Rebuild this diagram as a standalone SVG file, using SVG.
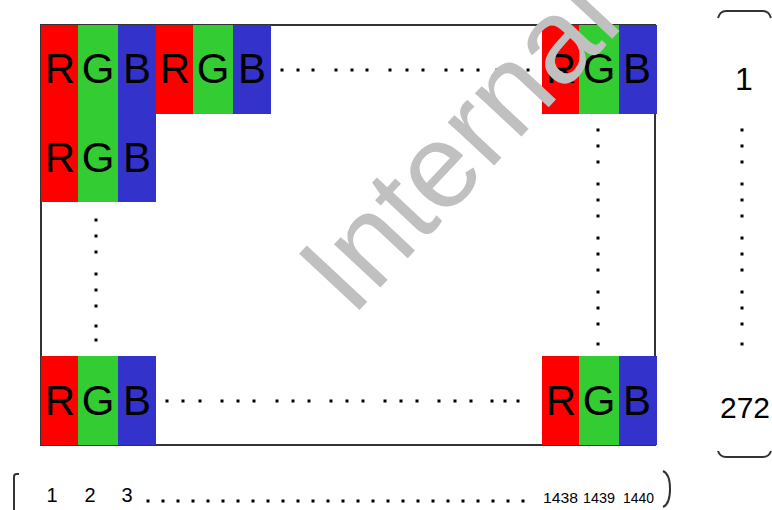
<svg xmlns="http://www.w3.org/2000/svg" width="772" height="510" viewBox="0 0 772 510">
<style>
.r{fill:#ff0000}.g{fill:#33cc33}.b{fill:#3333cc}
.L{font-family:"Liberation Sans",Arial,sans-serif;font-size:42px;fill:#000;text-anchor:middle}
.n{font-family:"Liberation Sans",Arial,sans-serif;fill:#000;text-anchor:middle}
.d{fill:#000}
.br{fill:none;stroke:#333;stroke-width:2}
.wm{font-family:"Liberation Sans",Arial,sans-serif;font-size:120px;fill:#c0c0c0}
</style>
<defs>
<g id="px">
<rect class="r" x="0" y="0" width="37" height="89"/>
<rect class="g" x="37" y="0" width="40" height="89"/>
<rect class="b" x="77" y="0" width="38" height="89"/>
</g>
<rect id="dt" x="-1.5" y="-1.5" width="3" height="3"/>
</defs>
<rect width="772" height="510" fill="#fff"/>
<rect x="41" y="25" width="614" height="420" fill="#fff" stroke="#333" stroke-width="2"/>

<g id="px-r1c1"><use href="#px" x="41" y="25"/><text class="L" x="60" y="83">R</text><text class="L" x="98" y="83">G</text><text class="L" x="137" y="83">B</text></g>
<g id="px-r1c2"><use href="#px" x="156" y="25"/><text class="L" x="175" y="83">R</text><text class="L" x="213" y="83">G</text><text class="L" x="252" y="83">B</text></g>
<g id="px-r1cN"><use href="#px" x="542" y="25"/><rect class="b" x="619" y="25" width="36" height="89"/><text class="L" x="561" y="83">R</text><text class="L" x="599" y="83">G</text><text class="L" x="637" y="83">B</text></g>
<g id="px-r2c1"><use href="#px" x="41" y="113"/><text class="L" x="60" y="172">R</text><text class="L" x="98" y="172">G</text><text class="L" x="137" y="172">B</text></g>
<g id="px-rNc1"><use href="#px" x="41" y="356"/><text class="L" x="60" y="415">R</text><text class="L" x="98" y="415">G</text><text class="L" x="137" y="415">B</text></g>
<g id="px-rNcN"><use href="#px" x="542" y="356"/><rect class="b" x="619" y="356" width="36" height="89"/><text class="L" x="561" y="415">R</text><text class="L" x="599" y="415">G</text><text class="L" x="637" y="415">B</text></g>

<g id="dots" class="d">
<use href="#dt" x="282" y="70"/><use href="#dt" x="298" y="70"/><use href="#dt" x="313" y="70"/>
<use href="#dt" x="336" y="70"/><use href="#dt" x="352" y="70"/><use href="#dt" x="367" y="70"/>
<use href="#dt" x="390" y="70"/><use href="#dt" x="407" y="70"/><use href="#dt" x="423" y="70"/>
<use href="#dt" x="446" y="70"/><use href="#dt" x="462" y="70"/><use href="#dt" x="478" y="70"/>
<use href="#dt" x="497" y="70"/><use href="#dt" x="513" y="70"/><use href="#dt" x="528" y="70"/>

<use href="#dt" x="96" y="220"/><use href="#dt" x="96" y="236"/><use href="#dt" x="96" y="252"/>
<use href="#dt" x="96" y="274"/><use href="#dt" x="96" y="290"/><use href="#dt" x="96" y="306"/>
<use href="#dt" x="96" y="326"/><use href="#dt" x="96" y="340"/>

<use href="#dt" x="598" y="130"/><use href="#dt" x="598" y="146"/><use href="#dt" x="598" y="162"/>
<use href="#dt" x="598" y="184"/><use href="#dt" x="598" y="200"/><use href="#dt" x="598" y="216"/>
<use href="#dt" x="598" y="238"/><use href="#dt" x="598" y="254"/><use href="#dt" x="598" y="270"/>
<use href="#dt" x="598" y="292"/><use href="#dt" x="598" y="308"/><use href="#dt" x="598" y="324"/>
<use href="#dt" x="598" y="344"/>

<use href="#dt" x="742" y="130"/><use href="#dt" x="742" y="146"/><use href="#dt" x="742" y="162"/>
<use href="#dt" x="742" y="184"/><use href="#dt" x="742" y="200"/><use href="#dt" x="742" y="216"/>
<use href="#dt" x="742" y="238"/><use href="#dt" x="742" y="254"/><use href="#dt" x="742" y="270"/>
<use href="#dt" x="742" y="292"/><use href="#dt" x="742" y="308"/><use href="#dt" x="742" y="324"/>
<use href="#dt" x="742" y="344"/>

<use href="#dt" x="167" y="401"/><use href="#dt" x="183" y="401"/><use href="#dt" x="200" y="401"/>
<use href="#dt" x="222" y="401"/><use href="#dt" x="238" y="401"/><use href="#dt" x="254" y="401"/>
<use href="#dt" x="277" y="401"/><use href="#dt" x="293" y="401"/><use href="#dt" x="309" y="401"/>
<use href="#dt" x="331" y="401"/><use href="#dt" x="347" y="401"/><use href="#dt" x="363" y="401"/>
<use href="#dt" x="385" y="401"/><use href="#dt" x="401" y="401"/><use href="#dt" x="417" y="401"/>
<use href="#dt" x="439" y="401"/><use href="#dt" x="455" y="401"/><use href="#dt" x="471" y="401"/>
<use href="#dt" x="492" y="401"/><use href="#dt" x="505" y="401"/><use href="#dt" x="518" y="401"/>

<use href="#dt" x="148" y="501"/><use href="#dt" x="163" y="501"/><use href="#dt" x="178" y="501"/><use href="#dt" x="193" y="501"/>
<use href="#dt" x="208" y="501"/><use href="#dt" x="223" y="501"/><use href="#dt" x="238" y="501"/><use href="#dt" x="253" y="501"/>
<use href="#dt" x="268" y="501"/><use href="#dt" x="283" y="501"/><use href="#dt" x="298" y="501"/><use href="#dt" x="313" y="501"/>
<use href="#dt" x="328" y="501"/><use href="#dt" x="343" y="501"/><use href="#dt" x="358" y="501"/><use href="#dt" x="373" y="501"/>
<use href="#dt" x="388" y="501"/><use href="#dt" x="403" y="501"/><use href="#dt" x="418" y="501"/><use href="#dt" x="433" y="501"/>
<use href="#dt" x="448" y="501"/><use href="#dt" x="463" y="501"/><use href="#dt" x="478" y="501"/><use href="#dt" x="493" y="501"/>
<use href="#dt" x="508" y="501"/><use href="#dt" x="523" y="501"/>
</g>

<g id="labels">
<text class="n" x="744" y="90" font-size="32">1</text>
<text class="n" x="745" y="418" font-size="30">272</text>
<text class="n" x="52" y="502" font-size="20">1</text>
<text class="n" x="90" y="502" font-size="20">2</text>
<text class="n" x="127" y="502" font-size="20">3</text>
<text class="n" x="543" y="503" font-size="15" style="text-anchor:start" textLength="35" lengthAdjust="spacingAndGlyphs">1438</text>
<text class="n" x="583" y="503" font-size="15" style="text-anchor:start" textLength="32" lengthAdjust="spacingAndGlyphs">1439</text>
<text class="n" x="623" y="503" font-size="15" style="text-anchor:start" textLength="31" lengthAdjust="spacingAndGlyphs">1440</text>
</g>

<g id="brackets">
<path class="br" d="M19,474 L16.5,474 Q14,474 14,477 L14,512"/>
<path class="br" d="M663,471 Q670,474 670,489 Q670,504 663,507"/>
<path class="br" d="M718,18 Q720,11 726,11 L763,11 Q769,11 771,18"/>
<path class="br" d="M718,451 Q720,457 726,457 L763,457 Q769,457 771,451"/>
</g>

<text class="wm" x="352" y="318" transform="rotate(-47 352 318)">Internal</text>
</svg>
